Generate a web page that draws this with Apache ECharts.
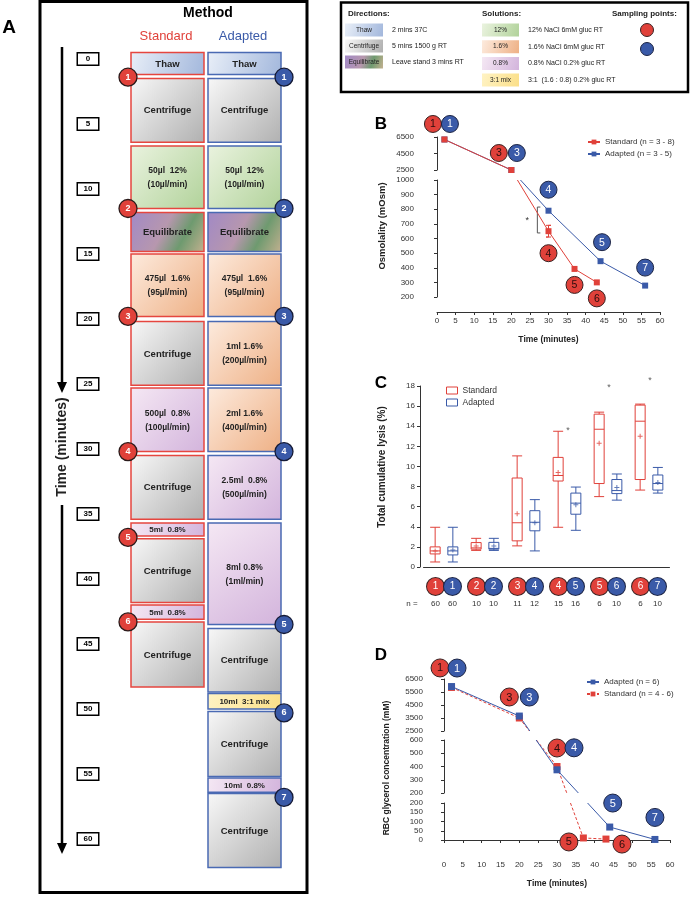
<!DOCTYPE html>
<html>
<head>
<meta charset="utf-8">
<script src="https://cdn.jsdelivr.net/npm/echarts@6/dist/echarts.min.js"></script>
<style>
  html, body { margin: 0; padding: 0; background: #fff; }
  #chart { width: 690px; height: 898px; }
</style>
</head>
<body>
<div id="chart"></div>
<script>
// ---------- data ----------
// A: protocol steps, [start min, end min, text, solution kind]
const timeTicks = [0, 5, 10, 15, 20, 25, 30, 35, 40, 45, 50, 55, 60];
const stdSteps = [
  [-0.5, 1.2, 'Thaw', 'thaw'],
  [1.5, 6.4, 'Centrifuge', 'cent'],
  [6.7, 11.5, '50µl  12%\n(10µl/min)', 'g12'],
  [11.8, 14.8, 'Equilibrate', 'equ'],
  [15.0, 19.8, '475µl  1.6%\n(95µl/min)', 'p16'],
  [20.2, 25.1, 'Centrifuge', 'cent'],
  [25.3, 30.2, '500µl  0.8%\n(100µl/min)', 'p08'],
  [30.5, 35.4, 'Centrifuge', 'cent'],
  [35.7, 36.7, '5ml  0.8%', 'p08'],
  [36.9, 41.8, 'Centrifuge', 'cent'],
  [42.0, 43.1, '5ml  0.8%', 'p08'],
  [43.3, 48.3, 'Centrifuge', 'cent'],
];
const adpSteps = [
  [-0.5, 1.2, 'Thaw', 'thaw'],
  [1.5, 6.4, 'Centrifuge', 'cent'],
  [6.7, 11.5, '50µl  12%\n(10µl/min)', 'g12'],
  [11.8, 14.8, 'Equilibrate', 'equ'],
  [15.0, 19.8, '475µl  1.6%\n(95µl/min)', 'p16'],
  [20.2, 25.1, '1ml 1.6%\n(200µl/min)', 'p16'],
  [25.3, 30.2, '2ml 1.6%\n(400µl/min)', 'p16'],
  [30.5, 35.4, '2.5ml  0.8%\n(500µl/min)', 'p08'],
  [35.7, 43.5, '8ml 0.8%\n(1ml/min)', 'p08'],
  [43.8, 48.7, 'Centrifuge', 'cent'],
  [48.8, 50.0, '10ml  3:1 mix', 'mix'],
  [50.2, 55.2, 'Centrifuge', 'cent'],
  [55.3, 56.4, '10ml  0.8%', 'p08'],
  [56.5, 62.2, 'Centrifuge', 'cent'],
];
const stdSampleTimes = [1.4, 11.5, 19.8, 30.2, 36.8, 43.3];
const adpSampleTimes = [1.4, 11.5, 19.8, 30.2, 43.5, 50.3, 56.8];

// B: osmolality (mOsm)
const osmStdTime = [2, 20, 30, 37, 43];
const osmStd = [6200, 2500, 650, 392, 300];
const osmStdErr = [0, 0, 40, 0, 0];
const osmAdpTime = [2, 20, 30, 44, 56];
const osmAdp = [6200, 2500, 790, 445, 278];
const osmTicksTop = [2500, 4500, 6500];
const osmSig = { t: 27, hi: 815, lo: 638 };

// C: total cumulative lysis (%), [min, Q1, median, Q3, max]
const lysisGroups = ['1', '2', '3', '4', '5', '6'];
const lysisStd = [
  [0.5, 1.3, 1.6, 2.0, 3.95],
  [1.65, 1.77, 1.9, 2.43, 2.85],
  [2.1, 2.6, 4.4, 8.85, 11.05],
  [3.95, 8.55, 9.1, 10.9, 13.5],
  [7.0, 8.3, 13.7, 15.2, 15.4],
  [7.65, 8.7, 14.5, 16.1, 16.2],
];
const lysisAdp = [
  [0.5, 1.2, 1.6, 2.0, 3.95],
  [1.65, 1.77, 1.85, 2.45, 2.85],
  [1.6, 3.6, 4.45, 5.6, 6.7],
  [3.65, 5.25, 6.35, 7.35, 7.95],
  [6.65, 7.3, 7.6, 8.7, 9.25],
  [7.35, 7.65, 8.3, 9.15, 9.9],
];
const lysisStdMean = [1.6, 2.1, 5.3, 9.4, 12.3, 13.0];
const lysisAdpMean = [1.7, 2.1, 4.4, 6.2, 7.9, 8.4];
const lysisStdIds = [1, 2, 3, 4, 5, 6];
const lysisAdpIds = [1, 2, 4, 5, 6, 7];
const lysisStdN = [60, 10, 11, 15, 6, 6];
const lysisAdpN = [60, 10, 12, 16, 10, 10];
const lysisSig = [[3, 13.8], [4, 18.0], [5, 18.7]];

// D: RBC glycerol concentration (mM)
const glyStdTime = [2, 20, 30, 37, 43];
const glyStd = [5850, 3500, 400, 11, 5];
const glyStdErr = [0, 150, 0, 0, 0];
const glyAdpTime = [2, 20, 30, 44, 56];
const glyAdp = [5920, 3650, 375, 70, 3];
const glyAdpErr = [0, 100, 0, 0, 0];
const glyTicksTop = [2500, 3500, 4500, 5500, 6500];

// ---------- layout / style ----------
const FONT = '"Liberation Sans", Arial, sans-serif';
const RED = '#e0413a', BLUE = '#3a5aa8';
const RED_EDGE = '#e5463f', BLUE_EDGE = '#4a6ab3';
const font = (s, b) => (b ? 'bold ' : '') + s + 'px ' + FONT;

const FILLS = {
  thaw: [[0, '#e9eff8'], [1, '#a2b7dc']],
  cent: [[0, '#f8f8f8'], [1, '#b0b0b0']],
  g12: [[0, '#eaf3df'], [1, '#b1d29a']],
  equ: [[0, '#a189c6'], [0.45, '#b797ae'], [0.7, '#6e9a6f'], [1, '#c4b190']],
  p16: [[0, '#fdebde'], [1, '#eeb085']],
  p08: [[0, '#f5e8f4'], [1, '#d3b4dc']],
  mix: [[0, '#fff3c4'], [1, '#fbdf88']],
};
const fill = k => new echarts.graphic.LinearGradient(0, 0, 1, 1,
  FILLS[k].map(([o, c]) => ({ offset: o, color: c })));

const grids = [
  { left: 131, top: 46, width: 150, height: 845 },     // A
  { left: 437, top: 137, width: 223, height: 33 },     // B upper
  { left: 437, top: 180, width: 223, height: 117 },    // B lower
  { left: 423.5, top: 386, width: 246, height: 181 },  // C
  { left: 444, top: 679, width: 226, height: 52 },     // D upper
  { left: 444, top: 740, width: 226, height: 53 },     // D middle
  { left: 444, top: 803, width: 226, height: 37 },     // D lower
].map(g => Object.assign({ outerBoundsMode: 'none' }, g));

const panelB = { base: 1, segs: [{ min: 2500, max: 6500 }, { min: 200, max: 1000 }] };
const panelD = { base: 4, segs: [{ min: 2500, max: 6500 }, { min: 200, max: 600 }, { min: 0, max: 200 }] };

// column x in panel A (px units on a 0-150 axis)
const colX = [0, 77], colW = 73;

function valAxis(grid, o) {
  return Object.assign({
    type: 'value', gridIndex: grid,
    axisLine: { show: true, lineStyle: { color: '#333', width: 1 } },
    axisTick: { show: true, length: 3, lineStyle: { color: '#333', width: 1 } },
    axisLabel: { color: '#333', fontSize: 8, margin: 5, fontFamily: FONT, formatter: v => String(v) },
    splitLine: { show: false },
  }, o);
}
function withTicks(ax, ticks) {
  ax.axisLabel.customValues = ticks;
  ax.axisTick.customValues = ticks;
  return ax;
}
const timeName = {
  name: 'Time (minutes)', nameLocation: 'middle', nameGap: 23,
  nameTextStyle: { fontWeight: 'bold', fontSize: 8.5, color: '#222', fontFamily: FONT },
};

const xAxes = [
  valAxis(0, { min: 0, max: 150, show: false }),
  valAxis(1, { min: 0, max: 60, show: false }),
  valAxis(2, Object.assign({ min: 0, max: 60, interval: 5, offset: 15 }, timeName)),
  {
    type: 'category', gridIndex: 3, data: lysisGroups,
    axisLine: { lineStyle: { color: '#333', width: 1 } },
    axisTick: { alignWithLabel: true, length: 4, lineStyle: { color: '#333' } },
    axisLabel: {
      interval: 0, margin: 11,
      formatter: (v, i) => `{r|${lysisStdIds[i]}}{b|${lysisAdpIds[i]}}\n{n|${lysisStdN[i]}}{n|${lysisAdpN[i]}}`,
      rich: {
        r: { width: 17, height: 17, lineHeight: 17, align: 'center', backgroundColor: RED, borderColor: '#3a2222', borderWidth: 1, borderRadius: 8.5, color: '#fff', fontSize: 10, fontFamily: FONT },
        b: { width: 17, height: 17, lineHeight: 17, align: 'center', backgroundColor: BLUE, borderColor: '#1c2444', borderWidth: 1, borderRadius: 8.5, color: '#fff', fontSize: 10, fontFamily: FONT },
        n: { width: 17, lineHeight: 17, align: 'center', color: '#333', fontSize: 8, fontFamily: FONT },
      },
    },
    splitLine: { show: false },
  },
  valAxis(4, { min: 0, max: 60, show: false }),
  valAxis(5, { min: 0, max: 60, show: false }),
  valAxis(6, Object.assign({ min: 0, max: 60, interval: 5, offset: 16 }, timeName)),
];

const yAxes = [
  {
    type: 'value', gridIndex: 0, min: -1, max: 64, inverse: true,
    axisLine: { show: false }, axisTick: { show: false }, splitLine: { show: false },
    axisLabel: {
      customValues: timeTicks, align: 'center', margin: 43,
      width: 20, lineHeight: 10, padding: [1, 0, 0, 0],
      backgroundColor: '#fff', borderColor: '#000', borderWidth: 1.5,
      color: '#000', fontSize: 8, fontWeight: 'bold', fontFamily: FONT,
    },
  },
  withTicks(valAxis(1, { min: 2500, max: 6500, offset: 18 }), osmTicksTop),
  valAxis(2, { min: 200, max: 1000, interval: 100, offset: 18 }),
  valAxis(3, { min: 0, max: 18, interval: 2, offset: 3.5 }),
  withTicks(valAxis(4, { min: 2500, max: 6500, offset: 16 }), glyTicksTop),
  valAxis(5, { min: 200, max: 600, interval: 100, offset: 16 }),
  valAxis(6, { min: 0, max: 200, interval: 50, offset: 16 }),
];

// ---------- series ----------
const inSeg = (s, v) => v >= s.min && v <= s.max;

function stepSeries(steps, col, stroke) {
  return {
    type: 'custom', xAxisIndex: 0, yAxisIndex: 0, z: 2,
    data: steps.map(s => [colX[col], s[0]]),
    renderItem(params, api) {
      const s = steps[params.dataIndex];
      const a = api.coord([colX[col], s[0]]);
      const b = api.coord([colX[col] + colW, s[1]]);
      const h = b[1] - a[1];
      const plain = /^(Thaw|Centrifuge|Equilibrate)$/.test(s[2]);
      const fs = h < 20 ? 8 : (plain ? 9.5 : 8.5);
      return {
        type: 'group', children: [
          { type: 'rect', shape: { x: a[0], y: a[1], width: b[0] - a[0], height: h },
            style: { fill: fill(s[3]), stroke, lineWidth: 1.5 } },
          { type: 'text', x: (a[0] + b[0]) / 2, y: a[1] + h / 2 + 0.5,
            style: { text: s[2], font: font(fs, true), fill: '#222', lineHeight: 14,
              align: 'center', verticalAlign: 'middle', textAlign: 'center', textVerticalAlign: 'middle' } },
        ],
      };
    },
  };
}

function sampleSeries(times, x, color, edge) {
  return {
    type: 'scatter', xAxisIndex: 0, yAxisIndex: 0, z: 5, clip: false,
    data: times.map(t => [x, t]),
    symbol: 'circle', symbolSize: 18,
    itemStyle: { color, borderColor: edge, borderWidth: 1.3, opacity: 1 },
    label: { show: true, position: 'inside', formatter: p => String(p.dataIndex + 1),
      color: '#fff', fontWeight: 'bold', fontSize: 9, fontFamily: FONT },
  };
}

function lineSeries(name, times, vals, panel, color, dash, size) {
  return panel.segs.map((s, k) => ({
    name, type: 'line', xAxisIndex: panel.base + k, yAxisIndex: panel.base + k, z: 3,
    data: times.map((t, i) => [t, inSeg(s, vals[i]) ? vals[i] : null]),
    symbol: 'rect', symbolSize: size, showSymbol: true,
    itemStyle: { color },
    lineStyle: { color, width: 1, type: dash ? [3, 2] : 'solid' },
  }));
}

const boxOff = (() => { // ECharts boxplot side-by-side offset for 2 series
  const band = grids[3].width / lysisGroups.length;
  const avail = band * 0.8 - 2, gap = avail / 2 * 0.3, w = (avail - gap) / 2;
  return avail / 2 - w / 2;
})();
const PLUS = 'path://M0,2L5,2L5,3L0,3Z M2,0L3,0L3,5L2,5Z';

const series = [
  stepSeries(stdSteps, 0, RED_EDGE),
  stepSeries(adpSteps, 1, BLUE_EDGE),
  sampleSeries(stdSampleTimes, -3, RED, '#2a1a1a'),
  sampleSeries(adpSampleTimes, colX[1] + colW + 3, BLUE, '#151a35'),
  ...lineSeries('Adapted (n = 3 - 5)', osmAdpTime, osmAdp, panelB, BLUE, false, 6),
  ...lineSeries('Standard (n = 3 - 8)', osmStdTime, osmStd, panelB, RED, false, 6),
  { name: 'Standard', type: 'boxplot', xAxisIndex: 3, yAxisIndex: 3, data: lysisStd, boxWidth: [10, 10],
    itemStyle: { color: 'rgba(255,255,255,0)', borderColor: RED, borderWidth: 1 } },
  { name: 'Adapted', type: 'boxplot', xAxisIndex: 3, yAxisIndex: 3, data: lysisAdp, boxWidth: [10, 10],
    itemStyle: { color: 'rgba(255,255,255,0)', borderColor: BLUE, borderWidth: 1 } },
  { type: 'scatter', xAxisIndex: 3, yAxisIndex: 3, z: 5, data: lysisStdMean.map((m, i) => [i, m]),
    symbol: PLUS, symbolSize: 5, symbolOffset: [-boxOff, 0], itemStyle: { color: RED } },
  { type: 'scatter', xAxisIndex: 3, yAxisIndex: 3, z: 5, data: lysisAdpMean.map((m, i) => [i, m]),
    symbol: PLUS, symbolSize: 5, symbolOffset: [boxOff, 0], itemStyle: { color: BLUE } },
  { type: 'scatter', xAxisIndex: 3, yAxisIndex: 3, z: 5, clip: false, data: lysisSig,
    symbolSize: 1, itemStyle: { color: 'rgba(0,0,0,0)' },
    label: { show: true, position: 'inside', formatter: '*', color: '#333', fontSize: 9, offset: [1, 2] } },
  ...lineSeries('Standard (n = 4 - 6)', glyStdTime, glyStd, panelD, RED, true, 7),
  ...lineSeries('Adapted (n = 6)', glyAdpTime, glyAdp, panelD, BLUE, false, 7),
];

const legendText = { fontSize: 8, color: '#333', fontFamily: FONT };
const option = {
  animation: false,
  backgroundColor: '#fff',
  textStyle: { fontFamily: FONT },
  grid: grids,
  xAxis: xAxes,
  yAxis: yAxes,
  legend: [
    { data: ['Standard (n = 3 - 8)', 'Adapted (n = 3 - 5)'], orient: 'vertical', left: 582, top: 133,
      itemWidth: 12, itemHeight: 6, itemGap: 4, textStyle: legendText },
    { data: [
        { name: 'Standard', icon: 'rect', itemStyle: { color: '#fff', borderColor: RED, borderWidth: 1 } },
        { name: 'Adapted', icon: 'rect', itemStyle: { color: '#fff', borderColor: BLUE, borderWidth: 1 } }],
      orient: 'vertical', left: 441, top: 381, itemWidth: 11, itemHeight: 7, itemGap: 3,
      textStyle: { fontSize: 8.5, color: '#333', fontFamily: FONT } },
    { data: ['Adapted (n = 6)', 'Standard (n = 4 - 6)'], orient: 'vertical', left: 581, top: 673,
      itemWidth: 12, itemHeight: 6, itemGap: 4, textStyle: legendText },
  ],
  series,
};

const chart = echarts.init(document.getElementById('chart'), null, { renderer: 'canvas' });
chart.setOption(option);

// ---------- annotations drawn through the chart's own scales ----------
function text(x, y, str, f, extra, z) {
  return { type: 'text', x, y, z: z || 50, style: Object.assign({
    text: str, font: f, fill: '#222', align: 'left', verticalAlign: 'middle',
    textAlign: 'left', textVerticalAlign: 'middle' }, extra || {}) };
}
function ytitle(x, y, str, f) {
  const t = text(x, y, str, f, { align: 'center', textAlign: 'center' });
  t.rotation = Math.PI / 2;
  return t;
}
function badge(x, y, r, num, color, edge, txt, fs) {
  return [
    { type: 'circle', z: 100, shape: { cx: x, cy: y, r }, style: { fill: color, stroke: edge, lineWidth: 1 } },
    text(x, y + 0.5, String(num), font(fs, false), { fill: txt, align: 'center', textAlign: 'center' }, 101),
  ];
}

function segOf(panel, v) { return panel.segs.findIndex(s => inSeg(s, v)); }
function px(panel, t, v, k) {
  const seg = k == null ? segOf(panel, v) : k;
  return chart.convertToPixel({ gridIndex: panel.base + seg }, [t, v]);
}
// straight screen-space links across axis breaks, hidden inside the breaks
function bridges(panel, times, vals, color, dash) {
  const out = [];
  for (let i = 0; i < times.length - 1; i++) {
    const a = segOf(panel, vals[i]), b = segOf(panel, vals[i + 1]);
    if (a === b) continue;
    const P = px(panel, times[i], vals[i]), Q = px(panel, times[i + 1], vals[i + 1]);
    const xAt = y => P[0] + (Q[0] - P[0]) * (y - P[1]) / (Q[1] - P[1]);
    for (let k = Math.min(a, b); k <= Math.max(a, b); k++) {
      const g = grids[panel.base + k];
      const y0 = Math.max(Math.min(P[1], Q[1]), g.top);
      const y1 = Math.min(Math.max(P[1], Q[1]), g.top + g.height);
      if (y1 <= y0) continue;
      out.push({ type: 'line', z: 3, shape: { x1: xAt(y0), y1: y0, x2: xAt(y1), y2: y1 },
        style: { stroke: color, lineWidth: 1, lineDash: dash ? [3, 2] : null } });
    }
  }
  return out;
}
function errBars(panel, times, vals, errs, color) {
  const out = [];
  times.forEach((t, i) => {
    if (!errs[i]) return;
    const k = segOf(panel, vals[i]);
    const hi = px(panel, t, vals[i] + errs[i], k), lo = px(panel, t, vals[i] - errs[i], k);
    out.push({ type: 'polyline', z: 3, shape: { points: [[hi[0] - 2.5, hi[1]], [hi[0] + 2.5, hi[1]], [hi[0], hi[1]], [lo[0], lo[1]], [lo[0] - 2.5, lo[1]], [lo[0] + 2.5, lo[1]]] },
      style: { stroke: color, lineWidth: 1, fill: null } });
  });
  return out;
}
// sample badges next to points: [series, point index, label, dx, dy]
const badgesB = [
  ['s', 0, 1, -11.5, -15.5], ['a', 0, 1, 5.5, -15.5],
  ['s', 1, 3, -12.5, -17], ['a', 1, 3, 5.5, -17],
  ['a', 2, 4, 0, -21], ['s', 2, 4, 0, 22],
  ['a', 3, 5, 1.5, -19], ['s', 3, 5, 0, 16], ['s', 4, 6, 0, 16], ['a', 4, 7, 0, -18],
];
const badgesD = [
  ['s', 0, 1, -11.5, -19.5], ['a', 0, 1, 5.5, -18.5],
  ['s', 1, 3, -10, -21], ['a', 1, 3, 10, -19],
  ['s', 2, 4, 0, -18.5], ['a', 2, 4, 17, -22],
  ['a', 3, 5, 3, -24], ['s', 3, 5, -14.5, 4], ['s', 4, 6, 16, 5], ['a', 4, 7, 0, -22],
];
function placeBadges(panel, list, std, adp, r, fs) {
  const out = [];
  list.forEach(([s, i, n, dx, dy]) => {
    const src = s === 's' ? std : adp;
    const p = px(panel, src[0][i], src[1][i]);
    out.push(...(s === 's'
      ? badge(p[0] + dx, p[1] + dy, r, n, RED, '#3a2222', '#2a0d0d', fs)
      : badge(p[0] + dx, p[1] + dy, r, n, BLUE, '#1c2444', '#fff', fs)));
  });
  return out;
}

const G = [];
// panel letters
G.push(text(9, 28, 'A', font(19, true), { align: 'center', textAlign: 'center', fill: '#000' }));
G.push(text(381, 124, 'B', font(17, true), { align: 'center', textAlign: 'center', fill: '#000' }));
G.push(text(381, 383, 'C', font(17, true), { align: 'center', textAlign: 'center', fill: '#000' }));
G.push(text(381, 655, 'D', font(17, true), { align: 'center', textAlign: 'center', fill: '#000' }));

// panel A frame, headings, time arrow
G.push({ type: 'rect', z: 1, shape: { x: 40, y: 1.5, width: 267, height: 891 }, style: { fill: null, stroke: '#000', lineWidth: 3 } });
G.push(text(208, 13, 'Method', font(14, true), { align: 'center', textAlign: 'center', fill: '#000' }));
G.push(text(166, 36, 'Standard', font(13), { align: 'center', textAlign: 'center', fill: RED }));
G.push(text(243, 36, 'Adapted', font(13), { align: 'center', textAlign: 'center', fill: BLUE }));
G.push({ type: 'line', shape: { x1: 62, y1: 47, x2: 62, y2: 384 }, style: { stroke: '#000', lineWidth: 2.5 } });
G.push({ type: 'polygon', shape: { points: [[57, 382], [67, 382], [62, 393]] }, style: { fill: '#000' } });
G.push(ytitle(62, 447, 'Time (minutes)', font(14, true)));
G.push({ type: 'line', shape: { x1: 62, y1: 505, x2: 62, y2: 845 }, style: { stroke: '#000', lineWidth: 2.5 } });
G.push({ type: 'polygon', shape: { points: [[57, 843], [67, 843], [62, 854]] }, style: { fill: '#000' } });

// key box
G.push({ type: 'rect', shape: { x: 341, y: 2.5, width: 347, height: 89.5 }, style: { fill: null, stroke: '#000', lineWidth: 2.5 } });
G.push(text(348, 14, 'Directions:', font(8, true)));
G.push(text(482, 14, 'Solutions:', font(8, true)));
G.push(text(612, 14, 'Sampling points:', font(8, true)));
[['Thaw', 'thaw', '2 mins 37C'], ['Centrifuge', 'cent', '5 mins 1500 g RT'], ['Equilibrate', 'equ', 'Leave stand 3 mins RT']]
  .forEach(([sw, k, desc], i) => {
    const y = 30 + 16 * i;
    G.push({ type: 'rect', shape: { x: 345, y: y - 6.5, width: 38, height: 13 }, style: { fill: fill(k) } });
    G.push(text(364, y, sw, font(6.5), { align: 'center', textAlign: 'center' }));
    G.push(text(392, y, desc, font(7)));
  });
[['12%', 'g12', '12% NaCl 6mM gluc RT'], ['1.6%', 'p16', '1.6% NaCl 6mM gluc RT'], ['0.8%', 'p08', '0.8% NaCl 0.2% gluc RT'], ['3:1 mix', 'mix', '3:1  (1.6 : 0.8) 0.2% gluc RT']]
  .forEach(([sw, k, desc], i) => {
    const y = 30 + 16.7 * i;
    G.push({ type: 'rect', shape: { x: 482, y: y - 6.5, width: 37, height: 13 }, style: { fill: fill(k) } });
    G.push(text(500.5, y, sw, font(6.5), { align: 'center', textAlign: 'center' }));
    G.push(text(528, y, desc, font(7)));
  });
G.push({ type: 'circle', shape: { cx: 647, cy: 30, r: 6.5 }, style: { fill: RED, stroke: '#3a2222', lineWidth: 1 } });
G.push({ type: 'circle', shape: { cx: 647, cy: 49, r: 6.5 }, style: { fill: BLUE, stroke: '#1c2444', lineWidth: 1 } });

// axis titles
G.push(ytitle(382, 226, 'Osmolality (mOsm)', font(9.5, true)));
G.push(ytitle(382, 467, 'Total cumulative lysis (%)', font(10, true)));
G.push(ytitle(387, 768, 'RBC glycerol concentration (mM)', font(8.5, true)));
G.push(text(412, 604, 'n =', font(8), { align: 'center', textAlign: 'center', fill: '#333' }));

// B: breaks, errors, significance bracket, badges
G.push(...bridges(panelB, osmAdpTime, osmAdp, BLUE, false));
G.push(...bridges(panelB, osmStdTime, osmStd, RED, false));
G.push(...errBars(panelB, osmStdTime, osmStd, osmStdErr, RED));
{
  const a = px(panelB, osmSig.t, osmSig.hi, 1), b = px(panelB, osmSig.t, osmSig.lo, 1);
  G.push({ type: 'polyline', shape: { points: [[a[0] + 3, a[1]], [a[0], a[1]], [b[0], b[1]], [b[0] + 3, b[1]]] },
    style: { stroke: '#555', lineWidth: 1, fill: null } });
  G.push(text(a[0] - 10, (a[1] + b[1]) / 2 + 1, '*', font(9), { align: 'center', textAlign: 'center', fill: '#333' }));
}
G.push(...placeBadges(panelB, badgesB, [osmStdTime, osmStd], [osmAdpTime, osmAdp], 8.5, 10.5));

// D
G.push(...bridges(panelD, glyStdTime, glyStd, RED, true));
G.push(...bridges(panelD, glyAdpTime, glyAdp, BLUE, false));
G.push(...errBars(panelD, glyStdTime, glyStd, glyStdErr, RED));
G.push(...errBars(panelD, glyAdpTime, glyAdp, glyAdpErr, BLUE));
G.push(...placeBadges(panelD, badgesD, [glyStdTime, glyStd], [glyAdpTime, glyAdp], 9, 11));

chart.setOption({ graphic: { elements: G } });
</script>
</body>
</html>
